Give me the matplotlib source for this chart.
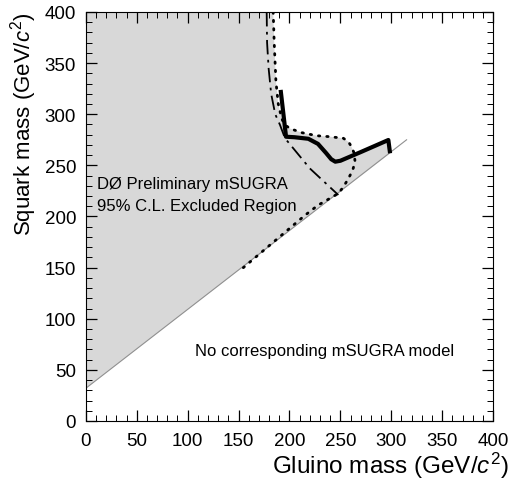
import matplotlib
matplotlib.use('Agg')
import matplotlib.pyplot as plt
from matplotlib.ticker import MultipleLocator

plt.rcParams['font.family'] = ['Liberation Sans', 'DejaVu Sans']
plt.rcParams['mathtext.fontset'] = 'custom'
plt.rcParams['mathtext.rm'] = 'Liberation Sans'
plt.rcParams['mathtext.it'] = 'Liberation Sans:italic'

# data (gluino mass, squark mass)
dotted_x = [184, 185, 186.7, 189, 192.3, 195, 200.5, 212, 226.7, 240, 252.9, 258, 261,
            263.5, 264.4, 262, 257.8, 253, 248, 228, 215, 150]
dotted_y = [400, 370, 332, 310, 296, 290, 286, 282, 279, 278, 276.5, 273, 268,
            262, 253.6, 245, 237, 229, 222.5, 211, 201, 146]

solid_x = [191.3, 196.6, 205, 218.5, 228, 236, 241, 245, 250, 270, 297.1, 298.8]
solid_y = [323.8, 278, 277.5, 276, 271, 262, 256, 253.6, 254.5, 263, 274.8, 261.8]

dashdot_x = [177.6, 178, 179.5, 182, 186, 190.7, 195.6, 220, 248]
dashdot_y = [400, 370, 345, 320, 300, 289.5, 276.5, 247, 221]

diag_x = [0, 315]
diag_y = [32, 275]

# excluded region outline
excl_x = [0, 0, 184, 185, 186.7, 189, 192.3, 195, 200.5, 212, 226.7, 240, 252.9, 258,
          261, 264, 270, 297.1, 298.8, 0]
excl_y = [32, 400, 400, 370, 332, 310, 296, 290, 286, 282, 279, 278, 276.5, 273,
          268, 260.5, 263, 274.8, 261.8, 32]

fig = plt.figure(figsize=(5.11, 4.81), dpi=100)
ax = fig.add_axes([0.168, 0.1227, 0.797, 0.8503])

ax.fill(excl_x, excl_y, color='#d8d8d8', lw=0, zorder=1)
ax.plot(diag_x, diag_y, color='#909090', lw=0.8, zorder=2)
ax.plot(dashdot_x, dashdot_y, color='black', lw=1.3, ls=(0, (8, 3, 1.5, 3)), zorder=3)
ax.plot(dotted_x, dotted_y, color='black', lw=2, ls=(0, (0.5, 2.5)),
        dash_capstyle='round', zorder=3)
ax.plot(solid_x, solid_y, color='black', lw=3, solid_joinstyle='round',
        solid_capstyle='butt', zorder=4)

ax.text(11, 232, 'DØ Preliminary mSUGRA', fontsize=12, va='center')
ax.text(11, 211, '95% C.L. Excluded Region', fontsize=12, va='center')
ax.text(107, 69, 'No corresponding mSUGRA model', fontsize=12, va='center')

ax.set_xlim(0, 400)
ax.set_ylim(0, 400)
ax.xaxis.set_major_locator(MultipleLocator(50))
ax.yaxis.set_major_locator(MultipleLocator(50))
ax.xaxis.set_minor_locator(MultipleLocator(10))
ax.yaxis.set_minor_locator(MultipleLocator(10))
ax.tick_params(which='both', direction='in', top=True, right=True, labelsize=13.5)
ax.tick_params(which='major', length=8, width=0.9)
ax.tick_params(which='minor', length=4, width=0.7)
ax.tick_params(axis='x', pad=8)
ax.tick_params(axis='y', pad=7)

ax.set_xlabel(r'Gluino mass (GeV/$c^2$)', fontsize=17.5, ha='right', va='center')
ax.xaxis.set_label_coords(1.037, -0.108)
ax.set_ylabel(r'Squark mass (GeV/$c^2$)', fontsize=16, loc='top')

fig.savefig('out.png', dpi=100)
